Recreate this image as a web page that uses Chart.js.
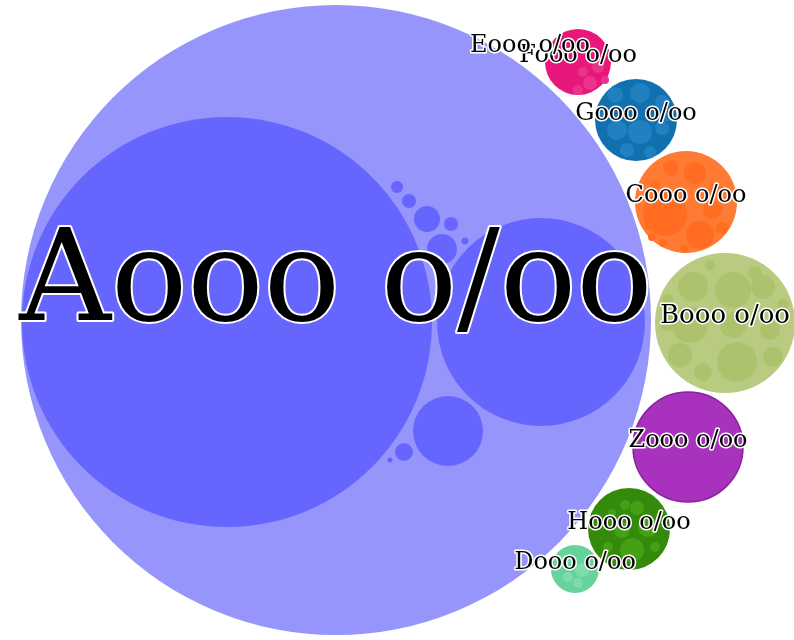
<!DOCTYPE html>
<html>
<head>
<meta charset="utf-8">
<script src="https://cdn.jsdelivr.net/npm/chart.js@4.4.1/dist/chart.umd.min.js"></script>
<style>
  html, body { margin: 0; padding: 0; background: #fff; }
  #wrap { width: 794px; height: 640px; }
</style>
</head>
<body>
<div id="wrap"><canvas id="packChart" width="794" height="640"></canvas></div>
<script>
// top level nodes (packing coordinates, same units as the hidden axes)
const names   = ['Aooo o/oo', 'Booo o/oo', 'Cooo o/oo', 'Dooo o/oo', 'Fooo o/oo', 'Eooo o/oo', 'Gooo o/oo', 'Hooo o/oo', 'Zooo o/oo'];
const nodeX   = [336, 725, 686, 575, 578, 530, 636, 629, 688];
const nodeY   = [320, 323, 202, 569, 62, 52, 120, 529, 447];
const nodeR   = [315, 70, 51, 24, 33, 0, 41, 41, 55];

// child circles inside each node: [x, y, r]
const kidsA = [[227, 322, 205], [541, 322, 104], [448, 431, 35], [404, 452, 9], [390, 460, 2.5],
  [397, 187, 6], [409, 201, 7], [427, 219, 13], [451, 224, 7], [442, 249, 15], [465, 241, 3.5]];
const kidsB = [[693, 287, 15], [733, 290, 18], [763, 287, 12], [710, 265, 5], [755, 273, 7],
  [690, 325, 18], [733, 325, 13], [770, 330, 10], [668, 323, 8], [680, 355, 12],
  [737, 362, 20], [773, 357, 10], [703, 372, 9], [668, 300, 6], [783, 305, 6]];
const kidsC = [[671, 168, 8], [695, 173, 11], [716, 190, 7], [712, 210, 9], [665, 214, 22],
  [700, 235, 14], [722, 228, 6], [652, 237, 4], [663, 243, 4], [684, 249, 4], [648, 226, 3], [655, 185, 5]];
const kidsD = [[582, 570, 7], [568, 577, 5], [578, 583, 5], [565, 560, 5]];
const kidsF = [[590, 83, 7], [605, 80, 4], [578, 90, 5], [598, 67, 6], [583, 72, 5]];
const kidsG = [[615, 95, 8], [640, 93, 10], [662, 102, 7], [617, 130, 10], [640, 132, 12],
  [662, 128, 7], [627, 150, 7], [650, 152, 6], [605, 115, 5], [668, 117, 5]];
const kidsH = [[625, 505, 5], [637, 508, 7], [648, 527, 10], [622, 530, 8], [632, 550, 12],
  [608, 547, 5], [655, 547, 5], [612, 513, 4]];

const nodeColors = ['#9595fb', '#b8cb80', '#ff7a32', '#66d49a', '#e8177c', '#e8177c', '#1170b0', '#348a0b', '#a832be'];
const kidColors = { A: '#6666ff', B: '#adc26c', C: '#ff6c22', D: '#7ddcaa', F: '#ec3388', G: '#2180c0', H: '#45a015' };

const toPts = arr => arr.map(k => ({ x: k[0], y: k[1], v: k[2] }));

const datasets = [];
// root circle at the bottom
datasets.push({ label: 'root', data: [{ x: nodeX[0], y: nodeY[0], v: nodeR[0] }], backgroundColor: nodeColors[0], order: 10 });
datasets.push({ label: 'kidsA', data: toPts(kidsA), backgroundColor: kidColors.A, order: 9 });
datasets.push({
  label: 'nodes',
  data: nodeX.slice(1).map((x, i) => ({ x, y: nodeY[i + 1], v: nodeR[i + 1] })),
  backgroundColor: nodeColors.slice(1),
  borderColor: ['rgba(0,0,0,0)', 'rgba(0,0,0,0)', 'rgba(0,0,0,0)', 'rgba(0,0,0,0)', 'rgba(0,0,0,0)', 'rgba(0,0,0,0)', 'rgba(0,0,0,0)', '#8a2299'],
  borderWidth: [0, 0, 0, 0, 0, 0, 0, 1.5],
  order: 8
});
[['B', kidsB], ['C', kidsC], ['D', kidsD], ['F', kidsF], ['G', kidsG], ['H', kidsH]].forEach(([k, arr]) => {
  datasets.push({ label: 'kids' + k, data: toPts(arr), backgroundColor: kidColors[k], order: 7 });
});
datasets.forEach(d => { d.radius = 0; d.clip = false; if (d.borderWidth === undefined) d.borderWidth = 0; });

const labelPlugin = {
  id: 'nodeLabels',
  afterDatasetsDraw(chart) {
    const c = chart.ctx;
    const sx = chart.scales.x, sy = chart.scales.y;
    c.save();
    c.textAlign = 'center';
    c.textBaseline = 'alphabetic';
    c.lineJoin = 'round';
    names.forEach((name, i) => {
      const px = sx.getPixelForValue(nodeX[i]);
      const py = sy.getPixelForValue(nodeY[i]);
      const big = i === 0;
      c.font = big ? '127px "DejaVu Serif"' : (i === 1 ? '26px "DejaVu Serif"' : '24px "DejaVu Serif"');
      c.lineWidth = big ? 4 : 3;
      c.strokeStyle = '#ffffff';
      c.strokeText(name, px, py);
      c.fillStyle = '#000000';
      c.fillText(name, px, py);
    });
    c.restore();
  }
};

const chart = new Chart(document.getElementById('packChart').getContext('2d'), {
  type: 'bubble',
  data: { datasets },
  options: {
    responsive: false,
    devicePixelRatio: 1,
    animation: false,
    events: [],
    layout: { padding: 0, autoPadding: false },
    plugins: { legend: { display: false }, tooltip: { enabled: false } },
    scales: {
      x: { type: 'linear', min: 0, max: 794, display: false },
      y: { type: 'linear', min: 0, max: 640, reverse: true, display: false }
    }
  },
  plugins: [labelPlugin]
});

// bubble r is in pixels, so convert the circle sizes with the x scale once it is laid out
const sx = chart.scales.x;
chart.data.datasets.forEach(ds => {
  ds.data.forEach(p => { p.r = Math.abs(sx.getPixelForValue(p.v) - sx.getPixelForValue(0)); });
});
chart.update();
</script>
</body>
</html>
